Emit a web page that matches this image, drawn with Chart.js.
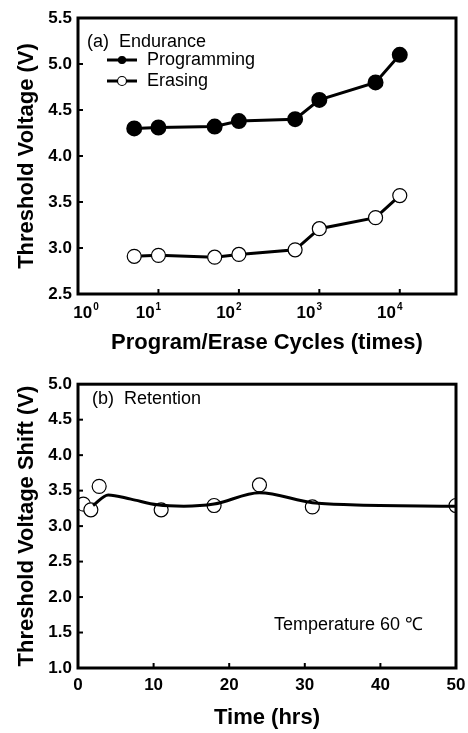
<!DOCTYPE html>
<html>
<head>
<meta charset="utf-8">
<script src="https://cdn.jsdelivr.net/npm/chart.js@4"></script>
<style>
  body { margin: 0; background: #fff; }
  #wrap { position: relative; width: 468px; height: 733px; }
  #wrap canvas { position: absolute; left: 0; }
</style>
</head>
<body>
<div id="wrap">
  <canvas id="enduranceChart" width="468" height="368" style="top:0"></canvas>
  <canvas id="retentionChart" width="468" height="365" style="top:368px"></canvas>
</div>
<script>
// (a) Endurance data
const cycles = [5, 10, 50, 100, 500, 1000, 5000, 10000];
const programming = [4.30, 4.31, 4.32, 4.38, 4.40, 4.61, 4.80, 5.10];
const erasing = [2.91, 2.92, 2.90, 2.93, 2.98, 3.21, 3.33, 3.57];
const cycleTicks = [1, 10, 100, 1000, 10000];
const cycleTickExp = ["0", "1", "2", "3", "4"];

// (b) Retention data
const hours = [0.7, 1.7, 2.8, 11, 18, 24, 31, 50];
const shift = [3.31, 3.23, 3.56, 3.23, 3.29, 3.58, 3.27, 3.29];
// smooth fit curve
const fitHours = [2, 4, 7, 10.5, 14, 18, 24, 31, 36, 50];
const fitShift = [3.29, 3.44, 3.38, 3.30, 3.28, 3.31, 3.47, 3.33, 3.30, 3.28];

const FONT = "'Liberation Sans', Arial, sans-serif";

// box around the plot area and inward tick marks
const framePlugin = {
  id: 'frame',
  afterDraw(chart) {
    const { ctx, chartArea: a } = chart;
    const xs = chart.scales.x, ys = chart.scales.y;
    ctx.save();
    ctx.strokeStyle = '#000';
    ctx.lineWidth = 3;
    ctx.strokeRect(a.left, a.top, a.right - a.left, a.bottom - a.top);
    ctx.lineWidth = 2;
    xs.ticks.forEach(t => {
      const px = xs.getPixelForValue(t.value);
      if (px <= a.left + 2 || px >= a.right - 2) return;
      ctx.beginPath();
      ctx.moveTo(px, a.bottom);
      ctx.lineTo(px, a.bottom - 5);
      ctx.stroke();
    });
    ys.ticks.forEach(t => {
      const py = ys.getPixelForValue(t.value);
      if (py <= a.top + 2 || py >= a.bottom - 2) return;
      ctx.beginPath();
      ctx.moveTo(a.left, py);
      ctx.lineTo(a.left + 5, py);
      ctx.stroke();
    });
    ctx.restore();
  }
};

// 10^n labels with a real superscript, placed from the log scale
const powerLabels = {
  id: 'powerLabels',
  afterDraw(chart) {
    const { ctx, chartArea: a } = chart;
    const xs = chart.scales.x;
    ctx.save();
    ctx.fillStyle = '#000';
    ctx.textBaseline = 'middle';
    ctx.textAlign = 'left';
    cycleTicks.forEach((v, i) => {
      const base = '10', exp = cycleTickExp[i];
      ctx.font = 'bold 17px ' + FONT;
      const wb = ctx.measureText(base).width;
      ctx.font = 'bold 10px ' + FONT;
      const we = ctx.measureText(exp).width;
      // the original labels sit a little left of their ticks, the first one right of the axis
      const shiftX = v === 1 ? 8 : -10;
      const x0 = xs.getPixelForValue(v) + shiftX - (wb + we + 1) / 2;
      const y = a.bottom + 19;
      ctx.font = 'bold 17px ' + FONT;
      ctx.fillText(base, x0, y);
      ctx.font = 'bold 10px ' + FONT;
      ctx.fillText(exp, x0 + wb + 1, y - 6);
    });
    ctx.restore();
  }
};

// text notes and the hand-made legend inside the plot
const notesPlugin = {
  id: 'notes',
  afterDraw(chart, args, opts) {
    const ctx = chart.ctx;
    ctx.save();
    ctx.fillStyle = '#000';
    ctx.textBaseline = 'middle';
    ctx.font = '18px ' + FONT;
    (opts.texts || []).forEach(t => ctx.fillText(t.text, t.x, t.y));
    (opts.keys || []).forEach(k => {
      ctx.strokeStyle = '#000';
      ctx.lineWidth = 3;
      ctx.beginPath();
      ctx.moveTo(k.x1, k.y);
      ctx.lineTo(k.x2, k.y);
      ctx.stroke();
      ctx.beginPath();
      ctx.arc((k.x1 + k.x2) / 2, k.y, k.r, 0, Math.PI * 2);
      ctx.fillStyle = k.fill;
      ctx.fill();
      ctx.lineWidth = 1.2;
      ctx.stroke();
    });
    ctx.restore();
  }
};

function yAxis(title, min, max) {
  return {
    type: 'linear',
    min: min,
    max: max,
    grid: { display: false, drawTicks: false },
    border: { display: false },
    ticks: {
      stepSize: 0.5,
      padding: 6,
      color: '#000',
      font: { family: FONT, size: 17, weight: 'bold' },
      callback: v => v.toFixed(1)
    },
    title: {
      display: true,
      text: title,
      color: '#000',
      padding: { top: 14, bottom: 0 },
      font: { family: FONT, size: 22, weight: 'bold' }
    },
    afterFit: s => { s.width = 78; }
  };
}

new Chart(document.getElementById('enduranceChart').getContext('2d'), {
  type: 'line',
  data: {
    datasets: [{
      label: 'Programming',
      data: cycles.map((c, i) => ({ x: c, y: programming[i] })),
      borderColor: '#000',
      borderWidth: 3,
      pointRadius: 6.5,
      pointBackgroundColor: '#000',
      pointBorderColor: '#000',
      tension: 0
    }, {
      label: 'Erasing',
      data: cycles.map((c, i) => ({ x: c, y: erasing[i] })),
      borderColor: '#000',
      borderWidth: 3,
      pointRadius: 7,
      pointBorderWidth: 1.2,
      pointBackgroundColor: '#fff',
      pointBorderColor: '#000',
      tension: 0
    }]
  },
  options: {
    responsive: false,
    animation: false,
    layout: { padding: { top: 18, right: 12, left: 0, bottom: 0 } },
    plugins: {
      legend: { display: false },
      tooltip: { enabled: false },
      notes: {
        texts: [
          { text: '(a)  Endurance', x: 87, y: 42 },
          { text: 'Programming', x: 147, y: 60 },
          { text: 'Erasing', x: 147, y: 81 }
        ],
        keys: [
          { x1: 107, x2: 137, y: 60, r: 3.5, fill: '#000' },
          { x1: 107, x2: 137, y: 81, r: 4.5, fill: '#fff' }
        ]
      }
    },
    scales: {
      x: {
        type: 'logarithmic',
        min: 1,
        max: 50000,
        grid: { display: false, drawTicks: false },
        border: { display: false },
        afterBuildTicks: s => { s.ticks = cycleTicks.map(v => ({ value: v })); },
        ticks: {
          padding: 10,
          autoSkip: false,
          maxRotation: 0,
          color: '#000',
          font: { family: FONT, size: 17, weight: 'bold' },
          callback: () => ''
        },
        title: {
          display: true,
          text: 'Program/Erase Cycles (times)',
          color: '#000',
          padding: { top: 0, bottom: 12 },
          font: { family: FONT, size: 22, weight: 'bold' }
        },
        afterFit: s => { s.height = 74; }
      },
      y: yAxis('Threshold Voltage (V)', 2.5, 5.5)
    }
  },
  plugins: [framePlugin, powerLabels, notesPlugin]
});

new Chart(document.getElementById('retentionChart').getContext('2d'), {
  type: 'line',
  data: {
    datasets: [{
      label: 'Fit',
      data: fitHours.map((h, i) => ({ x: h, y: fitShift[i] })),
      borderColor: '#000',
      borderWidth: 3,
      pointRadius: 0,
      cubicInterpolationMode: 'monotone'
    }, {
      label: 'Retention',
      data: hours.map((h, i) => ({ x: h, y: shift[i] })),
      showLine: false,
      pointRadius: 7,
      pointBorderWidth: 1.2,
      pointBackgroundColor: '#fff',
      pointBorderColor: '#000'
    }]
  },
  options: {
    responsive: false,
    animation: false,
    layout: { padding: { top: 15, right: 12, left: 0, bottom: 0 } },
    plugins: {
      legend: { display: false },
      tooltip: { enabled: false },
      notes: {
        texts: [
          { text: '(b)  Retention', x: 92, y: 31 },
          { text: 'Temperature 60 ℃', x: 274, y: 257 }
        ]
      }
    },
    scales: {
      x: {
        type: 'linear',
        min: 0,
        max: 50,
        grid: { display: false, drawTicks: false },
        border: { display: false },
        ticks: {
          stepSize: 10,
          padding: 7,
          maxRotation: 0,
          color: '#000',
          font: { family: FONT, size: 17, weight: 'bold' }
        },
        title: {
          display: true,
          text: 'Time (hrs)',
          color: '#000',
          padding: { top: 0, bottom: 2 },
          font: { family: FONT, size: 22, weight: 'bold' }
        },
        afterFit: s => { s.height = 65; s.paddingRight = 0; }
      },
      y: yAxis('Threshold Voltage Shift (V)', 1.0, 5.0)
    }
  },
  plugins: [framePlugin, notesPlugin]
});
</script>
</body>
</html>
